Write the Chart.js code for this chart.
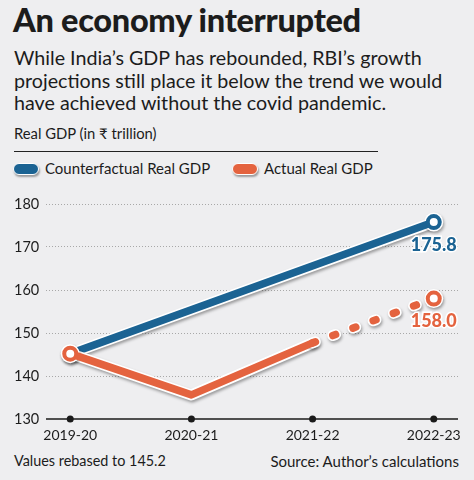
<!DOCTYPE html>
<html>
<head>
<meta charset="utf-8">
<script src="https://cdn.jsdelivr.net/npm/chart.js@4"></script>
<style>
  html, body { margin: 0; padding: 0; }
  body { width: 474px; height: 480px; background: #eeeef0; position: relative; overflow: hidden;
         font-family: Lato, "Noto Sans", sans-serif; color: #1c1c1c; }
  .abs { position: absolute; white-space: nowrap; }
  #title { left: 13px; top: 0px; font-size: 32.5px; font-weight: 900; letter-spacing: -0.3px; }
  #sub { left: 14px; top: 47px; font-size: 19.7px; line-height: 22.5px; }
  #unit { left: 14px; top: 124px; font-size: 14.8px; }
  #rule { left: 14px; top: 151px; width: 364px; height: 1px; background: #222; }
  .key { top: 159px; font-size: 15px; }
  .pill { display: inline-block; width: 24px; height: 10px; border-radius: 6px; border: 1.5px solid #fff;
          box-shadow: 1px 2px 2px rgba(0,0,0,0.35); vertical-align: -1px; margin-right: 6px; }
  #foot1 { left: 14px; top: 452px; font-size: 14.4px; }
  #foot2 { right: 15px; top: 452px; font-size: 15px; }
  #wrap { position: absolute; left: 0; top: 185px; width: 474px; height: 264px; }
</style>
</head>
<body>
<div id="title" class="abs">An economy interrupted</div>
<div id="sub" class="abs">While India’s GDP has rebounded, RBI’s growth<br>projections still place it below the trend we would<br>have achieved without the covid pandemic.</div>
<div id="unit" class="abs">Real GDP (in ₹ trillion)</div>
<div id="rule" class="abs"></div>
<div class="abs key" style="left:13px"><span class="pill" style="background:#1b6393"></span>Counterfactual Real GDP</div>
<div class="abs key" style="left:232px"><span class="pill" style="background:#e4633f"></span>Actual Real GDP</div>
<div id="foot1" class="abs">Values rebased to 145.2</div>
<div id="foot2" class="abs">Source: Author’s calculations</div>
<div id="wrap"><canvas id="gdpChart"></canvas></div>

<script>
// values
const years = ['2019-20', '2020-21', '2021-22', '2022-23'];
const counterfactual = [145.2, null, null, 175.8];
const actual = [145.2, 135.6, 147.7, 158.0];
const yTicks = [130, 140, 150, 160, 170, 180];
const projectedFrom = 2; // actual series is a projection after this index

const BLUE = '#1b6393';
const ORANGE = '#e4633f';

const toXY = arr => arr.map((v, i) => ({ x: i, y: v }));
const endsOnly = r => ctx => (ctx.dataIndex === 0 || ctx.dataIndex === years.length - 1) ? r : 0;

// shadow under the white outlines
const shadowPlugin = {
    id: 'shadow',
    beforeDatasetDraw(chart, args) {
        const ctx = chart.ctx;
        ctx.save();
        if (chart.data.datasets[args.index].outline) {
            ctx.shadowColor = 'rgba(0,0,0,0.35)';
            ctx.shadowBlur = 3;
            ctx.shadowOffsetX = 1;
            ctx.shadowOffsetY = 2;
        }
    },
    afterDatasetDraw(chart) {
        chart.ctx.restore();
    }
};

// black baseline with dots, and end value labels
const extrasPlugin = {
    id: 'extras',
    beforeDatasetsDraw(chart) {
        const { ctx, chartArea, scales } = chart;
        const y0 = scales.y.getPixelForValue(yTicks[0]);
        ctx.save();
        ctx.strokeStyle = '#1a1a1a';
        ctx.lineWidth = 1.5;
        ctx.beginPath();
        ctx.moveTo(chartArea.left, y0);
        ctx.lineTo(chartArea.right, y0);
        ctx.stroke();
        ctx.fillStyle = '#1a1a1a';
        years.forEach((c, i) => {
            ctx.beginPath();
            ctx.arc(scales.x.getPixelForValue(i), y0, 3.5, 0, Math.PI * 2);
            ctx.fill();
        });
        ctx.restore();
    },
    afterDatasetsDraw(chart) {
        const { ctx, scales } = chart;
        const last = years.length - 1;
        const xp = scales.x.getPixelForValue(last);
        ctx.save();
        ctx.font = '900 18px Lato, sans-serif';
        ctx.textAlign = 'center';
        ctx.textBaseline = 'middle';
        ctx.lineWidth = 3;
        ctx.strokeStyle = '#ffffff';
        [[counterfactual, BLUE], [actual, ORANGE]].forEach(([arr, col]) => {
            const yp = scales.y.getPixelForValue(arr[last]) + 23;
            const txt = arr[last].toFixed(1);
            ctx.strokeText(txt, xp, yp);
            ctx.fillStyle = col;
            ctx.fillText(txt, xp, yp);
        });
        ctx.restore();
    }
};

function lineSet(data, color, order, outline, projected) {
    return {
        data: toXY(data),
        outline: outline,
        order: order,
        borderColor: outline ? '#ffffff' : color,
        borderWidth: outline ? 11 : 7.5,
        borderCapStyle: 'round',
        borderJoinStyle: 'round',
        spanGaps: true,
        tension: 0,
        pointRadius: outline ? endsOnly(9.5) : endsOnly(6),
        pointBackgroundColor: '#ffffff',
        pointBorderColor: outline ? '#ffffff' : color,
        pointBorderWidth: outline ? 0 : 4,
        pointHoverRadius: 0,
        segment: {
            borderDash: ctx => (projected && ctx.p0DataIndex >= projectedFrom) ? [3, 18.5] : undefined
        }
    };
}

new Chart(document.getElementById('gdpChart'), {
    type: 'line',
    data: {
        datasets: [
            lineSet(actual, ORANGE, 1, false, true),
            lineSet(actual, ORANGE, 2, true, true),
            lineSet(counterfactual, BLUE, 3, false, false),
            lineSet(counterfactual, BLUE, 4, true, false)
        ]
    },
    plugins: [shadowPlugin, extrasPlugin],
    options: {
        responsive: true,
        maintainAspectRatio: false,
        animation: false,
        events: [],
        layout: { padding: { left: 14, right: 16, top: 19, bottom: 0 } },
        plugins: { legend: { display: false }, tooltip: { enabled: false } },
        scales: {
            x: {
                type: 'linear',
                min: -0.2,
                max: years.length - 0.8,
                afterBuildTicks: s => { s.ticks = years.map((c, i) => ({ value: i })); },
                afterFit: s => { s.height = 30; },
                grid: { display: false, drawTicks: false },
                border: { display: false },
                ticks: {
                    padding: 8,
                    color: '#1c1c1c',
                    font: { family: 'Lato', size: 14 },
                    callback: v => years[v]
                }
            },
            y: {
                min: yTicks[0],
                max: yTicks[yTicks.length - 1],
                afterBuildTicks: s => { s.ticks = yTicks.map(v => ({ value: v })); },
                afterFit: s => { s.width = 32; },
                grid: {
                    drawTicks: false,
                    color: ctx => ctx.tick && ctx.tick.value === yTicks[0] ? 'rgba(0,0,0,0)' : '#a8a8a8',
                    lineWidth: 1
                },
                border: { display: false, dash: [1, 2] },
                ticks: {
                    crossAlign: 'far',
                    padding: 0,
                    color: '#1c1c1c',
                    font: { family: 'Lato', size: 14.5 }
                }
            }
        }
    }
});
</script>
</body>
</html>
